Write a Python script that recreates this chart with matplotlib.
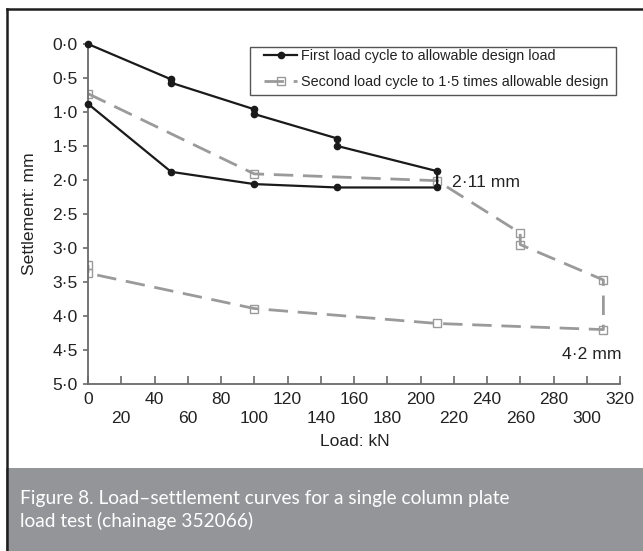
import matplotlib
matplotlib.use("Agg")
import matplotlib.pyplot as plt
from matplotlib.ticker import FuncFormatter, MultipleLocator, FixedLocator
from matplotlib.patches import Rectangle
from matplotlib.lines import Line2D

plt.rcParams['font.family'] = ['Liberation Sans', 'DejaVu Sans']

# ---- data ----
load_first = [0, 50, 50, 100, 100, 150, 150, 210, 210, 150, 100, 50, 0]
settle_first = [0.0, 0.52, 0.57, 0.96, 1.03, 1.39, 1.50, 1.87, 2.11, 2.11, 2.06, 1.88, 0.88]

load_second = [0, 100, 210, 260, 260, 310, 310, 210, 100, 0, 0]
settle_second = [0.73, 1.91, 2.01, 2.78, 2.95, 3.47, 4.20, 4.11, 3.89, 3.37, 3.25]

label_first = "First load cycle to allowable design load"
label_second = "Second load cycle to 1·5 times allowable design"
x_label = "Load: kN"
y_label = "Settlement: mm"
note_211 = "2·11 mm"
note_42 = "4·2 mm"
caption = "Figure 8. Load–settlement curves for a single column plate\nload test (chainage 352066)"

W, H = 643, 551
fig = plt.figure(figsize=(W / 100, H / 100), dpi=100)

def fx(px):
    return px / W

def fy(py):
    return 1 - py / H

TXT = '#222222'
FS = 12.6

ax = fig.add_axes([fx(88), fy(384), fx(620) - fx(88), fy(44) - fy(384)])

ax.plot(load_second, settle_second, color='#9a9a9a', lw=2.0, dashes=(7, 3.5),
        marker='s', markersize=6, markerfacecolor='none', markeredgecolor='#9a9a9a',
        markeredgewidth=1.0, label=label_second, zorder=2)
ax.plot(load_first, settle_first, color='#1a1a1a', lw=1.6,
        marker='o', markersize=4.5, markerfacecolor='#1a1a1a', markeredgecolor='#1a1a1a',
        label=label_first, zorder=3, clip_on=False)

ax.set_xlim(0, 320)
ax.set_ylim(5, 0)

for s in ['top', 'right']:
    ax.spines[s].set_visible(False)
for s in ['left', 'bottom']:
    ax.spines[s].set_color('#6a6a6a')
    ax.spines[s].set_linewidth(1.3)

dotfmt = FuncFormatter(lambda v, p: f"{v:.1f}".replace('.', '·'))
ax.yaxis.set_major_locator(MultipleLocator(0.5))
ax.yaxis.set_major_formatter(dotfmt)
ax.tick_params(axis='y', direction='out', length=3.5, width=1.2, color='#6a6a6a',
               labelsize=FS, pad=4, labelcolor=TXT)

ax.xaxis.set_major_locator(FixedLocator(list(range(0, 321, 40))))
ax.xaxis.set_minor_locator(FixedLocator(list(range(20, 320, 40))))
intfmt = FuncFormatter(lambda v, p: f"{int(round(v))}")
ax.xaxis.set_major_formatter(intfmt)
ax.xaxis.set_minor_formatter(intfmt)
ax.tick_params(axis='x', which='major', direction='in', length=6, width=1.2, color='#6a6a6a',
               labelsize=FS, pad=6, labelcolor=TXT)
ax.tick_params(axis='x', which='minor', direction='in', length=6, width=1.2, color='#6a6a6a',
               labelsize=FS, pad=19.5, labelcolor=TXT)

fig.text(fx(355), fy(441), x_label, ha='center', va='center', fontsize=FS, color=TXT)
fig.text(fx(30), fy(214), y_label, ha='center', va='center', rotation=90, fontsize=FS,
         color=TXT)

ax.text(219, 2.04, note_211, ha='left', va='center', fontsize=FS, color=TXT)
ax.text(321, 4.57, note_42, ha='right', va='center', fontsize=FS, color=TXT)

# legend (frame drawn separately, behind the legend entries)
handles, labels = ax.get_legend_handles_labels()
leg = ax.legend(handles[::-1], labels[::-1], loc='upper left',
                bbox_to_anchor=(fx(264), fy(49)), bbox_transform=fig.transFigure,
                fontsize=10.35, frameon=False, handlelength=2.3, handletextpad=0.25,
                borderpad=0, labelspacing=0.85, borderaxespad=0)
for t in leg.get_texts():
    t.set_color(TXT)
leg.set_zorder(6)
frame = Rectangle((fx(250), fy(95)), fx(616) - fx(250), fy(47) - fy(95),
                  transform=fig.transFigure, facecolor='white',
                  edgecolor='#555555', lw=1.0, zorder=5, clip_on=False)
ax.add_patch(frame)

# caption band
fig.patches.append(Rectangle((fx(6), 0), 1 - fx(6), fy(468), transform=fig.transFigure,
                             facecolor='#939598', edgecolor='none', zorder=0))
fig.text(fx(20), fy(510), caption, ha='left', va='center', fontsize=13.8, color='white',
         family=['Lato', 'DejaVu Sans'], linespacing=1.3)

# frame lines (top and left)
fig.add_artist(Line2D([fx(7), 1], [fy(8.5), fy(8.5)], transform=fig.transFigure,
                      color='#1e1e1e', lw=1.8))
fig.add_artist(Line2D([fx(7), fx(7)], [0, fy(8.5)], transform=fig.transFigure,
                      color='#1e1e1e', lw=1.8))

fig.savefig("out.png", dpi=100)
